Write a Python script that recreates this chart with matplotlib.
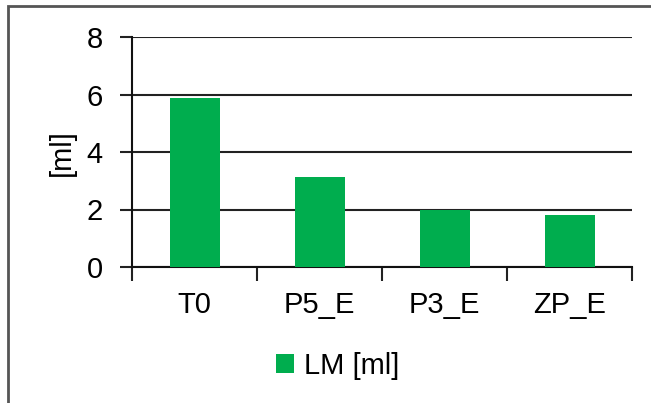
import matplotlib.pyplot as plt
from matplotlib.patches import Rectangle

plt.rcParams['font.family'] = ['Liberation Sans', 'DejaVu Sans']

categories = ['T0', 'P5_E', 'P3_E', 'ZP_E']
lm_values = [5.88, 3.13, 1.98, 1.81]
series_name = 'LM [ml]'
y_ticks = [0, 2, 4, 6, 8]

fig = plt.figure(figsize=(6.51, 4.03), dpi=100)
ax = fig.add_axes([132 / 651, 1 - 267 / 403, 500 / 651, 230 / 403])

x = range(len(categories))
ax.bar(x, lm_values, width=0.4, color='#00ad4e', label=series_name, zorder=3)

ax.set_xlim(-0.5, len(categories) - 0.5)
ax.set_ylim(0, 8)
ax.set_yticks(y_ticks)
ax.set_xticks(list(x))
ax.set_xticklabels(categories)
ax.set_xticks([i - 0.5 for i in range(len(categories) + 1)], minor=True)
ax.tick_params(axis='x', which='major', length=0, pad=17, labelsize=21)
ax.tick_params(axis='x', which='minor', length=10, width=1.5, color='#222222', direction='out')
ax.tick_params(axis='y', length=9, width=1.5, color='#222222', pad=12, labelsize=21)

ax.grid(axis='y', color='#222222', linewidth=1.5, zorder=0)
for side in ['top', 'right']:
    ax.spines[side].set_visible(False)
ax.spines['left'].set_linewidth(1.5)
ax.spines['bottom'].set_linewidth(1.5)
ax.spines['left'].set_color('#111111')
ax.spines['bottom'].set_color('#111111')

fig.text(62 / 651, 1 - 153 / 403, '[ml]', rotation=90, fontsize=21,
         ha='center', va='center')

fig.legend(loc='center', bbox_to_anchor=(338 / 651, 1 - 366 / 403), frameon=False,
           fontsize=21, handlelength=0.6, handleheight=0.6, handletextpad=0.35)

# outer chart border (cut off at the right and bottom)
fig.patches.append(Rectangle((8 / 651, -0.1), 1.2, 1 - 6 / 403 + 0.1,
                             transform=fig.transFigure, fill=False,
                             edgecolor='#555555', linewidth=2))

fig.savefig('out.png', dpi=100)
